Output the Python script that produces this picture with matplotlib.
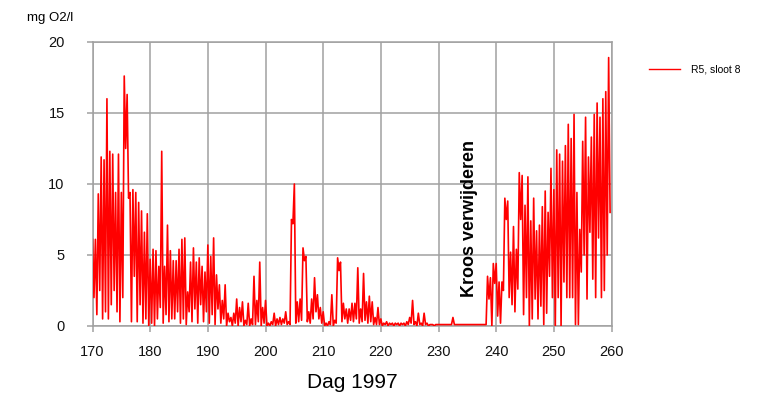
import numpy as np
import matplotlib
matplotlib.use("Agg")
import matplotlib.pyplot as plt
from matplotlib.lines import Line2D

plt.rcParams["font.family"] = ["Liberation Sans", "DejaVu Sans"]

# metingen per halve dag: dagmaximum en het minimum een kwart dag later
dag = np.arange(170, 260, 0.5)
o2_max = [
    6.1, 6.1, 9.3, 11.9, 11.7, 16.0, 12.3, 12.1, 9.4, 12.1,
    9.4, 17.6, 16.3, 9.4, 9.6, 9.4, 8.7, 8.1, 6.6, 7.9,
    4.7, 5.4, 5.3, 4.2, 12.3, 4.2, 7.1, 5.3, 4.6, 4.6,
    5.4, 6.1, 6.2, 2.4, 4.5, 5.5, 4.5, 4.8, 4.2, 3.8,
    5.7, 4.9, 6.2, 3.6, 2.9, 1.8, 2.9, 0.9, 0.6, 0.9,
    1.9, 1.3, 1.7, 0.4, 1.6, 0.5, 3.5, 1.8, 4.5, 1.3,
    1.8, 0.2, 0.3, 0.9, 0.5, 0.6, 0.5, 1.0, 0.3, 7.5,
    10.0, 1.7, 1.9, 5.5, 4.9, 1.0, 1.9, 3.4, 2.2, 1.3,
    1.0, 0.2, 0.3, 2.2, 0.4, 4.8, 4.5, 1.6, 1.2, 1.2,
    1.6, 1.6, 4.1, 1.2, 3.7, 1.7, 2.1, 1.7, 0.6, 1.3,
    0.5, 0.2, 0.3, 0.2, 0.2, 0.2, 0.2, 0.2, 0.2, 0.3,
    0.6, 1.8, 0.3, 0.9, 0.2, 0.9, 0.2, 0.1, 0.1, 0.1,
    0.1, 0.1, 0.1, 0.1, 0.1, 0.6, 0.1, 0.1, 0.1, 0.1,
    0.1, 0.1, 0.1, 0.1, 0.1, 0.1, 0.1, 3.5, 3.4, 4.4,
    4.4, 3.1, 3.1, 9.0, 8.8, 5.2, 7.0, 5.4, 10.8, 10.6,
    8.5, 10.5, 7.4, 9.0, 6.7, 7.1, 8.4, 9.5, 8.0, 11.1,
    9.6, 12.4, 12.1, 11.6, 12.7, 14.2, 13.2, 14.9, 9.4, 6.8,
    13.0, 14.7, 11.9, 13.3, 14.9, 15.7, 14.7, 16.0, 16.5, 18.9,
]
o2_min = [
    2.0, 0.8, 2.5, 0.5, 1.0, 0.5, 1.5, 2.5, 1.0, 0.3,
    2.0, 12.5, 9.0, 0.3, 3.5, 0.3, 1.5, 0.2, 0.5, 0.0,
    0.2, 0.0, 0.5, 1.3, 0.2, 0.8, 0.3, 0.5, 0.5, 1.0,
    0.2, 0.5, 0.1, 1.0, 0.3, 1.2, 0.2, 1.5, 0.3, 1.0,
    0.2, 0.8, 0.1, 1.2, 0.2, 0.5, 0.0, 0.3, 0.0, 0.2,
    0.0, 0.3, 0.0, 0.1, 0.0, 0.1, 0.1, 0.3, 0.0, 0.2,
    0.0, 0.0, 0.1, 0.0, 0.1, 0.1, 0.2, 0.1, 0.1, 7.2,
    0.2, 0.3, 0.4, 4.6, 0.3, 0.2, 0.5, 1.0, 0.5, 0.2,
    0.0, 0.0, 0.1, 0.0, 0.2, 3.9, 0.3, 0.5, 0.2, 0.4,
    0.3, 0.5, 0.2, 0.3, 0.4, 0.2, 0.3, 0.1, 0.1, 0.1,
    0.0, 0.1, 0.0, 0.1, 0.0, 0.1, 0.0, 0.1, 0.0, 0.1,
    0.2, 0.1, 0.0, 0.1, 0.0, 0.1, 0.0, 0.1, 0.0, 0.1,
    0.1, 0.1, 0.1, 0.1, 0.1, 0.1, 0.1, 0.1, 0.1, 0.1,
    0.1, 0.1, 0.1, 0.1, 0.1, 0.1, 0.1, 1.9, 0.0, 3.0,
    0.7, 0.2, 2.5, 7.5, 2.0, 1.5, 1.0, 2.6, 7.5, 0.8,
    2.0, 0.0, 0.5, 1.9, 0.5, 1.4, 0.1, 0.9, 3.5, 2.0,
    0.0, 2.0, 0.0, 3.1, 2.0, 2.0, 2.0, 0.1, 0.1, 3.8,
    5.0, 1.9, 6.6, 3.3, 2.0, 6.2, 2.0, 2.5, 5.0, 8.0,
]

x_ticks = [170, 180, 190, 200, 210, 220, 230, 240, 250, 260]
y_ticks = [0, 5, 10, 15, 20]

# max en min om en om achter elkaar zetten
t = np.empty(2 * len(dag))
v = np.empty(2 * len(dag))
t[0::2] = dag
t[1::2] = dag + 0.25
v[0::2] = o2_max
v[1::2] = o2_min

fig = plt.figure(figsize=(7.59, 3.96), dpi=100)
ax = fig.add_axes([0.1219, 0.1768, 0.6838, 0.7172])

grid_kw = dict(color="#a0a0a0", linewidth=1.1)
ax.plot(t, v, color="#ff0000", linewidth=1.2, zorder=3)

ax.set_xlim(170, 260)
ax.set_ylim(0, 20)
ax.set_xticks(x_ticks)
ax.set_yticks(y_ticks)
ax.grid(True, zorder=0, **grid_kw)
for s in ax.spines.values():
    s.set_color("#a0a0a0")
    s.set_linewidth(1.1)
ax.tick_params(axis="both", direction="out", length=4, width=1.1, color="#a0a0a0",
               labelsize=10.5, labelcolor="#111111")
ax.tick_params(axis="y", pad=16)
ax.tick_params(axis="x", pad=10)

ax.set_xlabel("Dag 1997", fontsize=15, labelpad=10)
fig.text(27 / 759, 1 - 18 / 396, "mg O2/l", fontsize=9.5, va="center", ha="left")

ax.text(235.3, 7.6, "Kroos verwijderen", rotation=90, fontsize=13, fontweight="bold",
        ha="center", va="center", zorder=4)

# legenda rechts naast de grafiek
fig.add_artist(Line2D([649 / 759, 680 / 759], [1 - 69 / 396, 1 - 69 / 396],
                      color="#ff0000", linewidth=1.0))
fig.text(691 / 759, 1 - 69 / 396, "R5, sloot 8", fontsize=7.5, va="center", ha="left")

fig.savefig("out.png", dpi=100)
